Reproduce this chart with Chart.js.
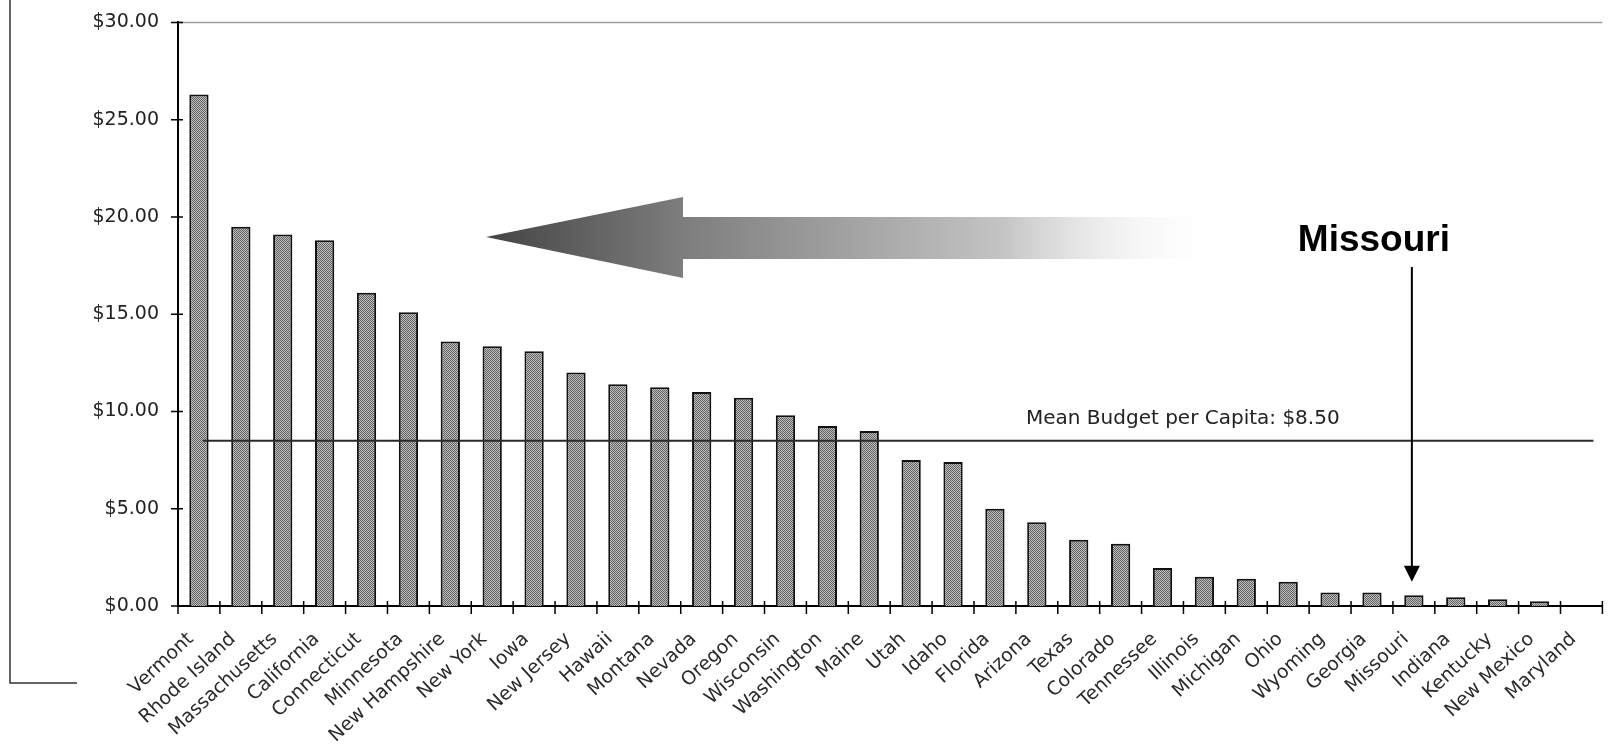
<!DOCTYPE html>
<html>
<head>
<meta charset="utf-8">
<title>Budget per Capita by State</title>
<script src="https://cdn.jsdelivr.net/npm/chart.js@4.4.1/dist/chart.umd.min.js"></script>
<style>
  html, body { margin: 0; padding: 0; background: #fff; }
  #wrap { width: 1611px; height: 745px; }
</style>
</head>
<body>
<div id="wrap"><canvas id="budgetChart" width="1611" height="745"></canvas></div>
<script>
const states = [
    'Vermont', 'Rhode Island', 'Massachusetts', 'California', 'Connecticut', 'Minnesota',
    'New Hampshire', 'New York', 'Iowa', 'New Jersey', 'Hawaii', 'Montana', 'Nevada',
    'Oregon', 'Wisconsin', 'Washington', 'Maine', 'Utah', 'Idaho', 'Florida', 'Arizona',
    'Texas', 'Colorado', 'Tennessee', 'Illinois', 'Michigan', 'Ohio', 'Wyoming', 'Georgia',
    'Missouri', 'Indiana', 'Kentucky', 'New Mexico', 'Maryland'
];
const budgetPerCapita = [
    26.3, 19.5, 19.1, 18.8, 16.1, 15.1,
    13.6, 13.35, 13.1, 12.0, 11.4, 11.25, 11.0,
    10.7, 9.8, 9.25, 9.0, 7.5, 7.4, 5.0, 4.3,
    3.4, 3.2, 1.95, 1.5, 1.4, 1.25, 0.7, 0.7,
    0.55, 0.45, 0.35, 0.25, 0
];
const yTicks = [0, 5, 10, 15, 20, 25, 30];
const meanBudget = 8.5;
const meanLabel = 'Mean Budget per Capita: $8.50';
const highlightState = 'Missouri';

const ctx = document.getElementById('budgetChart').getContext('2d');

// halftone-ish fill for the bars
const makeHalftone = () => {
    const p = document.createElement('canvas');
    p.width = 2; p.height = 2;
    const pc = p.getContext('2d');
    pc.fillStyle = '#bdbdbd';
    pc.fillRect(0, 0, 2, 2);
    pc.fillStyle = '#636363';
    pc.fillRect(0, 0, 1, 1);
    pc.fillRect(1, 1, 1, 1);
    return ctx.createPattern(p, 'repeat');
};

// frame bits, the big fading arrow and the Missouri callout
const decorations = {
    id: 'decorations',
    beforeDraw(chart) {
        const c = chart.ctx;
        c.save();
        c.strokeStyle = '#333';
        c.lineWidth = 1.5;
        c.beginPath();
        c.moveTo(10, 0);
        c.lineTo(10, 683);
        c.lineTo(77, 683);
        c.stroke();

        const g = c.createLinearGradient(486, 0, 1225, 0);
        g.addColorStop(0, '#444');
        g.addColorStop(0.27, '#7e7e7e');
        g.addColorStop(0.7, '#c4c4c4');
        g.addColorStop(1, 'rgba(255,255,255,0)');
        c.fillStyle = g;
        c.beginPath();
        c.moveTo(486, 237);
        c.lineTo(683, 197);
        c.lineTo(683, 217);
        c.lineTo(1225, 217);
        c.lineTo(1225, 259);
        c.lineTo(683, 259);
        c.lineTo(683, 278);
        c.closePath();
        c.fill();
        c.restore();
    },
    afterDatasetsDraw(chart) {
        const c = chart.ctx;
        const x = chart.scales.x;
        const y = chart.scales.y;
        c.save();

        // mean line over the bars
        const my = y.getPixelForValue(meanBudget);
        c.strokeStyle = '#2a2a2a';
        c.lineWidth = 2;
        c.beginPath();
        c.moveTo(x.getPixelForValue(0) + 4, my);
        c.lineTo(x.getPixelForValue(states.length - 1) + 12, my);
        c.stroke();
        c.fillStyle = '#222';
        c.font = '20px "DejaVu Sans"';
        c.textAlign = 'left';
        c.textBaseline = 'alphabetic';
        c.fillText(meanLabel, 1026, my - 17);

        // Missouri callout
        const ax = x.getPixelForValue(states.indexOf(highlightState)) - 2;
        const tipY = y.getPixelForValue(1.25);
        c.strokeStyle = '#000';
        c.lineWidth = 2;
        c.beginPath();
        c.moveTo(ax, 267);
        c.lineTo(ax, tipY - 14);
        c.stroke();
        c.fillStyle = '#000';
        c.beginPath();
        c.moveTo(ax - 8, tipY - 16);
        c.lineTo(ax + 8, tipY - 16);
        c.lineTo(ax, tipY);
        c.closePath();
        c.fill();
        c.font = 'bold 37px "Liberation Sans", Arial';
        c.textAlign = 'center';
        c.textBaseline = 'middle';
        c.fillText(highlightState, ax - 38, 241);
        c.restore();
    },
    afterDraw(chart) {
        const c = chart.ctx;
        const y = chart.scales.y;
        const area = chart.chartArea;
        c.save();
        // light top gridline at $30
        c.strokeStyle = '#9a9a9a';
        c.lineWidth = 1.5;
        c.beginPath();
        c.moveTo(area.left, y.getPixelForValue(30));
        c.lineTo(area.right, y.getPixelForValue(30));
        c.stroke();

        // crossing tick marks on both axes
        c.strokeStyle = '#000';
        c.lineWidth = 1.5;
        c.beginPath();
        yTicks.forEach(v => {
            const py = y.getPixelForValue(v);
            c.moveTo(area.left - 7, py);
            c.lineTo(area.left + 5, py);
        });
        const step = (area.right - area.left) / states.length;
        for (let i = 0; i <= states.length; i++) {
            const px = area.left + i * step;
            c.moveTo(px, area.bottom - 5);
            c.lineTo(px, area.bottom + 8);
        }
        c.stroke();
        c.restore();
    }
};

const setupChart = () => {
    return new Chart(ctx, {
        type: 'bar',
        data: {
            labels: states,
            datasets: [{
                label: 'Budget per Capita',
                data: budgetPerCapita,
                backgroundColor: makeHalftone(),
                borderColor: '#111',
                borderWidth: 2,
                borderSkipped: 'bottom',
                barPercentage: 0.46,
                categoryPercentage: 1.0
            }]
        },
        options: {
            responsive: false,
            animation: false,
            devicePixelRatio: 1,
            layout: { padding: { top: 10, right: 0, left: 0, bottom: 0 } },
            plugins: {
                legend: { display: false },
                tooltip: { enabled: false }
            },
            scales: {
                x: {
                    grid: { display: false },
                    border: { display: true, color: '#000', width: 2 },
                    ticks: {
                        autoSkip: false,
                        maxRotation: 43,
                        minRotation: 43,
                        padding: 14,
                        labelOffset: -8,
                        color: '#2a2a2a',
                        font: { family: 'DejaVu Sans', size: 19 }
                    },
                    afterFit: (scale) => { scale.height = 139; }
                },
                y: {
                    min: 0,
                    max: 30,
                    grid: { display: false },
                    border: { display: true, color: '#000', width: 2 },
                    afterBuildTicks: (scale) => { scale.ticks = yTicks.map(v => ({ value: v })); },
                    ticks: {
                        padding: 11,
                        color: '#222',
                        font: { family: 'DejaVu Sans', size: 19 },
                        callback: (v) => '$' + Number(v).toFixed(2)
                    },
                    afterFit: (scale) => { scale.width = 178; }
                }
            }
        },
        plugins: [decorations]
    });
};

const main = () => {
    setupChart();
};

main();
</script>
</body>
</html>
